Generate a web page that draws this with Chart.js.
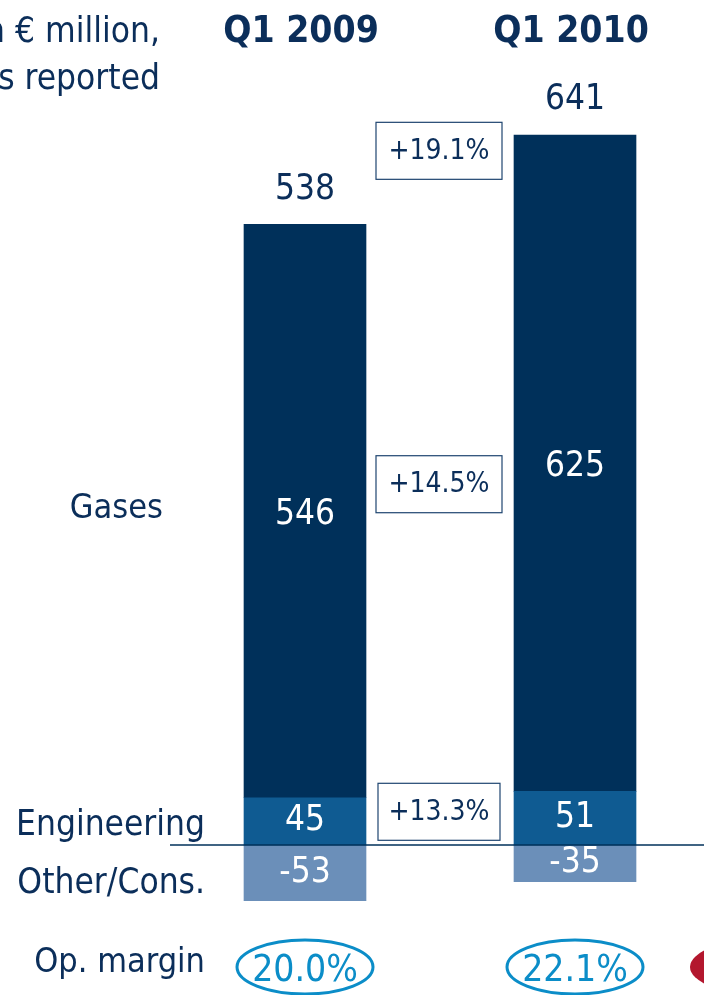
<!DOCTYPE html>
<html><head><meta charset="utf-8">
<script src="https://cdn.jsdelivr.net/npm/chart.js@4"></script>
<style>html,body{margin:0;padding:0;background:#fff;overflow:hidden}#wrap{width:704px;height:995px}</style>
</head><body><div id="wrap"><canvas id="c" width="704" height="995"></canvas></div>
<script>
const categories = ['Q1 2009', 'Q1 2010'];
const gases = [546, 625];
const engineering = [45, 51];
const otherCons = [-53, -35];
const totals = [538, 641];
const growth = ['+19.1%', '+14.5%', '+13.3%'];
const opMargin = ['20.0%', '22.1%'];
const rowLabels = ['Gases', 'Engineering', 'Other/Cons.', 'Op. margin'];
const unitLines = ['in € million,', 'as reported'];

const NAVY = '#00305a', ENG = '#0f5b92', OTH = '#6b8fb9', TXT = '#0b2e5a', CYAN = '#0b8dc8', RED = '#b3172e';
const FONT = '"DejaVu Sans Condensed", "DejaVu Sans", sans-serif';

function txt(ctx, s, x, y, size, opts) {
  opts = opts || {};
  ctx.save();
  ctx.font = (opts.bold ? 'bold ' : '') + size + 'px ' + FONT;
  ctx.fillStyle = opts.color || TXT;
  ctx.textAlign = opts.align || 'center';
  ctx.textBaseline = 'middle';
  ctx.letterSpacing = (opts.ls != null ? opts.ls : 0) + 'px';
  ctx.fillText(s, x, y);
  ctx.restore();
}

const overlay = {
  id: 'overlay',
  afterDatasetsDraw(chart) {
    const ctx = chart.ctx;
    const ys = chart.scales.y;
    const y0 = ys.getPixelForValue(0);
    ctx.save();
    ctx.strokeStyle = NAVY; ctx.lineWidth = 1.5;
    ctx.beginPath(); ctx.moveTo(170, y0); ctx.lineTo(704, y0); ctx.stroke();
    ctx.restore();

    const mEng = chart.getDatasetMeta(0).data;
    const mGas = chart.getDatasetMeta(1).data;
    const mOth = chart.getDatasetMeta(2).data;
    [[mGas, gases], [mEng, engineering], [mOth, otherCons]].forEach(([m, vals]) => {
      m.forEach((el, i) => {
        txt(ctx, String(vals[i]), el.x, (el.y + el.base) / 2 + (vals === gases ? 4 : 0), 35, {color: '#fff'});
      });
    });
    mGas.forEach((el, i) => {
      txt(ctx, String(totals[i]), el.x, el.y - 35, 35, {color: TXT});
    });
    mGas.forEach((el, i) => {
      txt(ctx, categories[i], el.x - 4, 32, 37, {bold: true});
    });
    const cx = (mGas[0].x + mGas[1].x) / 2 - 1;
    const boxY = [
      (mGas[0].y + mGas[1].y) / 2 - 29,
      ((mGas[0].y + mGas[0].base) / 2 + (mGas[1].y + mGas[1].base) / 2) / 2 - 3,
      ((mEng[0].y + mEng[0].base) / 2 + (mEng[1].y + mEng[1].base) / 2) / 2 - 8
    ];
    growth.forEach((g, i) => {
      const w = i === 2 ? 122 : 126, h = 57;
      ctx.save();
      ctx.fillStyle = '#fff'; ctx.strokeStyle = '#1f4570'; ctx.lineWidth = 1.2;
      ctx.fillRect(cx - w / 2, boxY[i] - h / 2, w, h);
      ctx.strokeRect(cx - w / 2, boxY[i] - h / 2, w, h);
      ctx.restore();
      txt(ctx, g, cx, boxY[i] + 1, 28);
    });
    txt(ctx, rowLabels[0], 163, 509, 34, {align: 'right'});
    txt(ctx, rowLabels[1], 205, 826, 35, {align: 'right'});
    txt(ctx, rowLabels[2], 205, 884, 35, {align: 'right'});
    txt(ctx, rowLabels[3], 205, 963, 34, {align: 'right'});
    txt(ctx, unitLines[0], 160, 33, 35, {align: 'right'});
    txt(ctx, unitLines[1], 160, 80, 35, {align: 'right'});
    mGas.forEach((el, i) => {
      ctx.save();
      ctx.strokeStyle = CYAN; ctx.lineWidth = 3;
      ctx.beginPath(); ctx.ellipse(el.x, 967, 68, 27, 0, 0, Math.PI * 2); ctx.stroke();
      ctx.restore();
      txt(ctx, opMargin[i], el.x, 971, 37, {color: CYAN});
    });
    ctx.save();
    ctx.fillStyle = RED;
    ctx.beginPath(); ctx.ellipse(758, 967, 68, 27, 0, 0, Math.PI * 2); ctx.fill();
    ctx.restore();
  }
};

const pts = arr => arr.map((v, i) => ({x: i, y: v}));
new Chart(document.getElementById('c'), {
  type: 'bar',
  data: {
    datasets: [
      {label: 'Engineering', data: pts(engineering), backgroundColor: ENG},
      {label: 'Gases', data: pts(gases), backgroundColor: NAVY},
      {label: 'Other/Cons.', data: pts(otherCons), backgroundColor: OTH}
    ]
  },
  options: {
    responsive: false, animation: false,
    layout: {padding: 0},
    barThickness: 122,
    plugins: {legend: {display: false}, tooltip: {enabled: false}, title: {display: false}},
    scales: {
      x: {type: 'linear', stacked: true, display: false, offset: false, grid: {offset: false},
          min: -305 / 270, max: (704 - 305) / 270},
      y: {stacked: true, display: false, min: -150 / 1.05, max: 845 / 1.05}
    }
  },
  plugins: [overlay]
});
</script></body></html>
